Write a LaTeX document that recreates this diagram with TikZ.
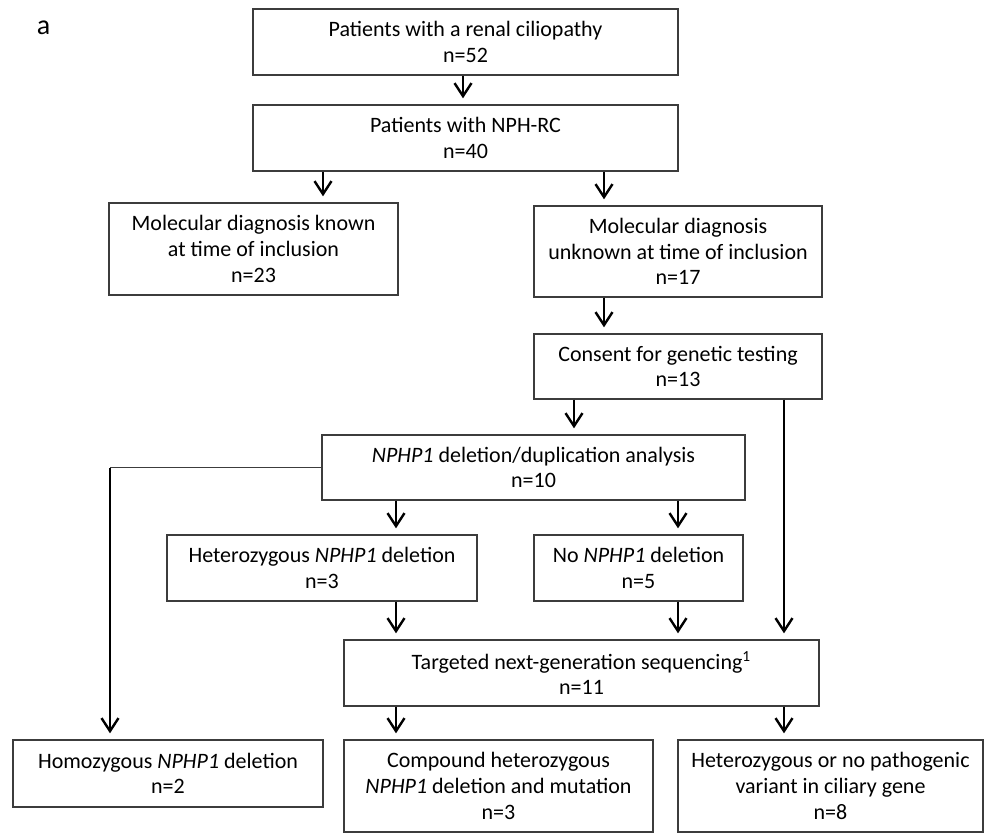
\documentclass[tikz,border=0pt]{standalone}
\usepackage{fontspec}
\setmainfont{Carlito}
\usepackage{xcolor}
\usetikzlibrary{arrows.meta}
\definecolor{boxgray}{HTML}{3C3C3C}

\begin{document}
\begin{tikzpicture}[x=0.5pt, y=-0.5pt,
        box/.style={draw=boxgray, line width=0.7pt, rectangle, align=center, inner sep=0pt,
            font=\fontsize{11}{12.8}\selectfont},
        arr/.style={-{Straight Barb[length=6.5pt,width=8.5pt]}, line width=1.2pt, shorten >=3pt}]
        \useasboundingbox (0,0) rectangle (989,833);

        % Panel label
        \node[font=\fontsize{14}{16}\selectfont] (panel) at (43.5,28) {a};

        % Cohort
        \node[box, minimum width=212.5pt, minimum height=33pt] (renal) at (465.5,42) {
            Patients with a renal ciliopathy \\ n=52};
        \node[box, minimum width=212.5pt, minimum height=33pt] (nphrc) at (465.5,138) {
            Patients with NPH-RC \\ n=40};

        % Molecular diagnosis
        \node[box, minimum width=144.5pt, minimum height=46pt] (known) at (253.5,249) {
            Molecular diagnosis known \\ at time of inclusion \\ n=23};
        \node[box, minimum width=144pt, minimum height=45.5pt] (unknown) at (678,251.5) {
            Molecular diagnosis \\ unknown at time of inclusion \\ n=17};
        \node[box, minimum width=144pt, minimum height=32.5pt] (consent) at (678,366.5) {
            Consent for genetic testing \\ n=13};

        % NPHP1 analysis
        \node[box, minimum width=211.5pt, minimum height=32.5pt] (deldup) at (533.5,467.5) {
            \textit{NPHP1} deletion/duplication analysis \\ n=10};
        \node[box, minimum width=155pt, minimum height=33pt] (hetdel) at (322,568) {
            Heterozygous \textit{NPHP1} deletion \\ n=3};
        \node[box, minimum width=104.5pt, minimum height=33pt] (nodel) at (638.5,568) {
            No \textit{NPHP1} deletion \\ n=5};

        % Sequencing
        \node[box, minimum width=237.5pt, minimum height=33pt] (ngs) at (581.5,673) {
            Targeted next-generation sequencing\textsuperscript{1} \\ n=11};

        % Outcomes
        \node[box, minimum width=155pt, minimum height=33.5pt] (homdel) at (168,773.5) {
            Homozygous \textit{NPHP1} deletion \\ n=2};
        \node[box, minimum width=154.5pt, minimum height=46pt] (compound) at (498.5,786) {
            Compound heterozygous \\ \textit{NPHP1} deletion and mutation \\ n=3};
        \node[box, minimum width=152.5pt, minimum height=46pt] (variant) at (830.5,786) {
            Heterozygous or no pathogenic \\ variant in ciliary gene \\ n=8};

        % Arrow columns
        \coordinate (colA) at (463,0);
        \coordinate (colB) at (323,0);
        \coordinate (colC) at (604,0);
        \coordinate (colD) at (574,0);
        \coordinate (colE) at (396,0);
        \coordinate (colF) at (678,0);
        \coordinate (colG) at (784,0);
        \coordinate (bend) at (110,467.5);

        % Relationships
        \draw[arr] (renal.south -| colA) -- (nphrc.north -| colA);
        \draw[arr] (nphrc.south -| colB) -- (known.north -| colB);
        \draw[arr] (nphrc.south -| colC) -- (unknown.north -| colC);
        \draw[arr] (unknown.south -| colC) -- (consent.north -| colC);
        \draw[arr] (consent.south -| colD) -- (deldup.north -| colD);
        \draw[arr] (consent.south -| colG) -- (ngs.north -| colG);
        \draw[arr] (deldup.south -| colE) -- (hetdel.north -| colE);
        \draw[arr] (deldup.south -| colF) -- (nodel.north -| colF);
        \draw[arr] (hetdel.south -| colE) -- (ngs.north -| colE);
        \draw[arr] (nodel.south -| colF) -- (ngs.north -| colF);
        \draw[boxgray, line width=0.5pt] (deldup.west) -- (bend);
        \draw[arr] (bend) -- (homdel.north -| bend);
        \draw[arr] (ngs.south -| colE) -- (compound.north -| colE);
        \draw[arr] (ngs.south -| colG) -- (variant.north -| colG);
    \end{tikzpicture}
\end{document}
